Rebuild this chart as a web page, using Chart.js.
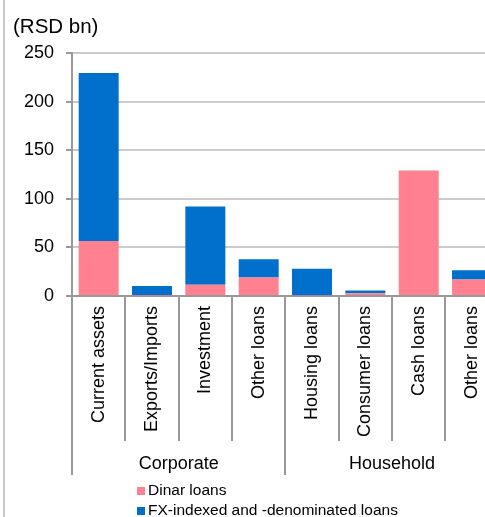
<!DOCTYPE html>
<html>
<head>
<meta charset="utf-8">
<script src="https://cdn.jsdelivr.net/npm/chart.js@4.4.1/dist/chart.umd.min.js"></script>
<style>
  html, body { margin: 0; padding: 0; background: #fff; overflow: hidden; }
  body { width: 485px; height: 517px; position: relative; font-family: "Liberation Sans", Arial, sans-serif; }
  #wrap { position: absolute; left: 0; top: 0; width: 500px; height: 517px; }
  #edge { position: absolute; left: 3px; top: 0; width: 2px; height: 517px; background: #c8c8c8; }
  #legend { position: absolute; left: 137px; top: 480px; margin: 0; padding: 0; list-style: none; font-size: 15.5px; color: #000; }
  #legend li { height: 20px; line-height: 20px; white-space: nowrap; }
  #legend span.box { display: inline-block; width: 8px; height: 8px; margin-right: 3px; vertical-align: 0px; }
</style>
</head>
<body>
<div id="edge"></div>
<div id="wrap"><canvas id="myChart"></canvas></div>
<ul id="legend"></ul>
<script>
// loans by purpose, RSD bn
const categories = ['Current assets', 'Exports/Imports', 'Investment', 'Other loans',
                    'Housing loans', 'Consumer loans', 'Cash loans', 'Other loans'];
const groups = ['Corporate', 'Household'];
const dinarLoans = [56.5, 0.3, 11.5, 19, 0.5, 2.8, 129, 17];
const fxLoans = [173, 10, 80.5, 18.8, 27.5, 2.8, 0, 9.5];
const yTicks = [0, 50, 100, 150, 200, 250];

const ctx = document.getElementById('myChart');
const font = 'Liberation Sans';

// legend as a plain list, two rows like the original
const htmlLegend = {
  id: 'htmlLegend',
  afterUpdate(chart) {
    const ul = document.getElementById('legend');
    ul.innerHTML = '';
    const items = chart.options.plugins.legend.labels.generateLabels(chart);
    items.forEach(item => {
      const li = document.createElement('li');
      const box = document.createElement('span');
      box.className = 'box';
      box.style.background = item.fillStyle;
      li.appendChild(box);
      li.appendChild(document.createTextNode(item.text));
      ul.appendChild(li);
    });
  }
};

const myChart = new Chart(ctx, {
  type: 'bar',
  data: {
    labels: categories,
    datasets: [
      {
        label: 'Dinar loans',
        data: dinarLoans,
        backgroundColor: '#FF808F',
        borderWidth: 0
      },
      {
        label: 'FX-indexed and -denominated loans',
        data: fxLoans,
        backgroundColor: '#0070CC',
        borderWidth: 0
      }
    ]
  },
  options: {
    responsive: true,
    maintainAspectRatio: false,
    animation: false,
    categoryPercentage: 1,
    barPercentage: 0.75,
    layout: { padding: { left: 13, right: 1.3, top: 0, bottom: 42 } },
    plugins: {
      legend: { display: false },
      tooltip: { enabled: false },
      title: {
        display: true,
        text: '(RSD bn)',
        align: 'start',
        color: '#000',
        font: { family: font, size: 20.5, weight: 'normal' },
        padding: { top: 15.2, bottom: 13.2 }
      }
    },
    scales: {
      x: {
        stacked: true,
        weight: 0,
        afterFit(scale) { scale.height = 145; },
        grid: {
          offset: true,
          drawOnChartArea: false,
          tickLength: 145,
          color: '#999',
          tickColor: '#999',
          lineWidth: 2
        },
        border: { color: '#999', width: 2 },
        ticks: {
          autoSkip: false,
          maxRotation: 90,
          minRotation: 90,
          padding: -135,
          color: '#000',
          font: { family: font, size: 18 }
        }
      },
      x2: {
        type: 'category',
        labels: groups,
        position: 'bottom',
        weight: 1,
        afterFit(scale) { scale.height = 34; },
        grid: {
          offset: true,
          drawOnChartArea: false,
          tickLength: 34,
          color: '#999',
          tickColor: '#999',
          lineWidth: 2
        },
        border: { display: false },
        ticks: {
          padding: -22,
          maxRotation: 0,
          color: '#000',
          font: { family: font, size: 18 }
        }
      },
      y: {
        stacked: true,
        min: 0,
        max: 250,
        afterFit(scale) { scale.width = 59; },
        afterBuildTicks(scale) { scale.ticks = yTicks.map(v => ({ value: v })); },
        grid: {
          color: '#cbcbcb',
          tickColor: '#999',
          tickLength: 6,
          lineWidth: 2
        },
        border: { color: '#999', width: 2 },
        ticks: {
          padding: 12,
          color: '#000',
          font: { family: font, size: 18 }
        }
      }
    }
  },
  plugins: [htmlLegend]
});
</script>
</body>
</html>
